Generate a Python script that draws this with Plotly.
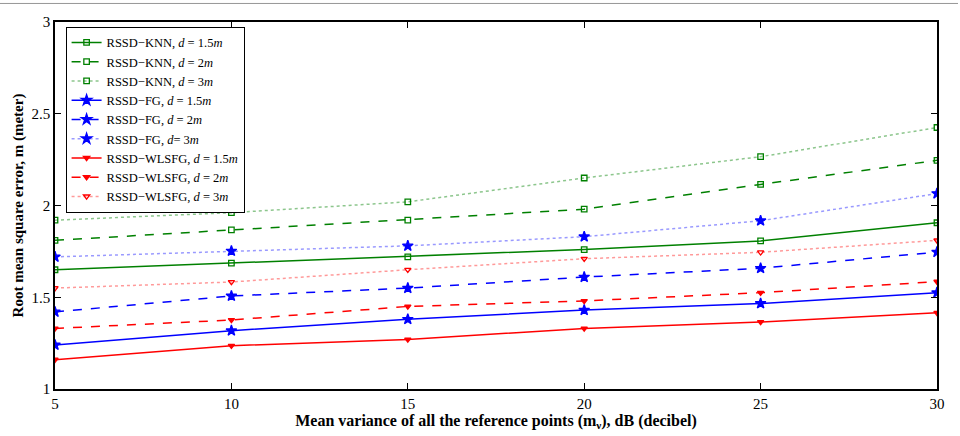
import plotly.graph_objects as go

x_vals = [5, 10, 15, 20, 25, 30]

knn_15 = [1.65, 1.686, 1.72, 1.76, 1.807, 1.906]
knn_2 = [1.81, 1.867, 1.92, 1.98, 2.115, 2.246]
knn_3 = [1.92, 1.961, 2.02, 2.15, 2.266, 2.425]
fg_15 = [1.24, 1.318, 1.38, 1.43, 1.466, 1.525]
fg_2 = [1.42, 1.507, 1.55, 1.61, 1.658, 1.746]
fg_3 = [1.72, 1.752, 1.78, 1.83, 1.917, 2.065]
wl_15 = [1.16, 1.236, 1.27, 1.33, 1.365, 1.415]
wl_2 = [1.33, 1.376, 1.45, 1.48, 1.525, 1.585]
wl_3 = [1.55, 1.583, 1.65, 1.71, 1.745, 1.81]

x_ticks = [5, 10, 15, 20, 25, 30]
y_ticks = [1, 1.5, 2, 2.5, 3]
y_tick_text = ["1", "1.5", "2", "2.5", "3"]

GREEN = "rgb(0,128,0)"
BLUE = "rgb(0,0,255)"
RED = "rgb(255,0,0)"

series = [
    ("RSSD\u2212KNN, <i>d</i> = 1.5<i>m</i>", knn_15, GREEN, "solid", "square-open", GREEN),
    ("RSSD\u2212KNN, <i>d</i> = 2<i>m</i>", knn_2, GREEN, "dash", "square-open", GREEN),
    ("RSSD\u2212KNN, <i>d</i> = 3<i>m</i>", knn_3, "rgba(0,128,0,0.45)", "dot", "square-open", GREEN),
    ("RSSD\u2212FG, <i>d</i> = 1.5<i>m</i>", fg_15, BLUE, "solid", "star", BLUE),
    ("RSSD\u2212FG, <i>d</i> = 2<i>m</i>", fg_2, BLUE, "dash", "star", BLUE),
    ("RSSD\u2212FG, <i>d</i>= 3<i>m</i>", fg_3, "rgba(0,0,255,0.4)", "dot", "star", BLUE),
    ("RSSD\u2212WLSFG, <i>d</i> = 1.5<i>m</i>", wl_15, RED, "solid", "triangle-down", RED),
    ("RSSD\u2212WLSFG, <i>d</i> = 2<i>m</i>", wl_2, RED, "dash", "triangle-down", RED),
    ("RSSD\u2212WLSFG, <i>d</i> = 3<i>m</i>", wl_3, "rgba(255,0,0,0.4)", "dot", "triangle-down-open", RED),
]

fig = go.Figure()
for name, ys, lc, dash, sym, mc in series:
    fig.add_trace(go.Scatter(
        x=x_vals, y=ys, name=name, mode="lines+markers",
        line=dict(color=lc, width=1.5, dash=dash),
        marker=dict(symbol=sym, size=8 if "star" in sym else 5.5, color=mc,
                    line=dict(color=mc, width=1.3)),
    ))

SERIF = "Liberation Serif, Times New Roman, serif"

fig.update_layout(
    width=960, height=436,
    margin=dict(l=55, r=23, t=22, b=38),
    paper_bgcolor="white", plot_bgcolor="white",
    font=dict(family=SERIF, size=14, color="black"),
    showlegend=True,
    legend=dict(
        x=0.012, y=0.987, xanchor="left", yanchor="top",
        bgcolor="white", bordercolor="black", borderwidth=1,
        font=dict(size=12.5, family=SERIF),
        tracegroupgap=0, itemwidth=30,
    ),
    xaxis=dict(
        range=[5, 30], tickvals=x_ticks, ticktext=[str(t) for t in x_ticks],
        ticks="inside", ticklen=6, tickcolor="black", mirror="ticks",
        showline=True, linecolor="black", linewidth=1.5, showgrid=False, zeroline=False,
        tickfont=dict(size=15, family=SERIF),
        title=dict(text="<b>Mean variance of all the reference points (m<sub>\u03bd</sub>), dB (decibel)</b>",
                   font=dict(size=16, family=SERIF), standoff=1),
    ),
    yaxis=dict(
        range=[1, 3], tickvals=y_ticks, ticktext=y_tick_text,
        ticks="inside", ticklen=6, tickcolor="black", mirror="ticks",
        showline=True, linecolor="black", linewidth=1.5, showgrid=False, zeroline=False,
        tickfont=dict(size=15, family=SERIF),
        title=dict(text="<b>Root mean square error, m (meter)</b>", font=dict(size=15, family=SERIF), standoff=4),
    ),
    shapes=[dict(type="line", xref="paper", yref="paper",
                 x0=-55 / 882, x1=1 + 21 / 882, y0=1 + 19 / 376, y1=1 + 19 / 376,
                 line=dict(color="rgb(150,150,150)", width=1))],
)

fig.write_html("out.html")
